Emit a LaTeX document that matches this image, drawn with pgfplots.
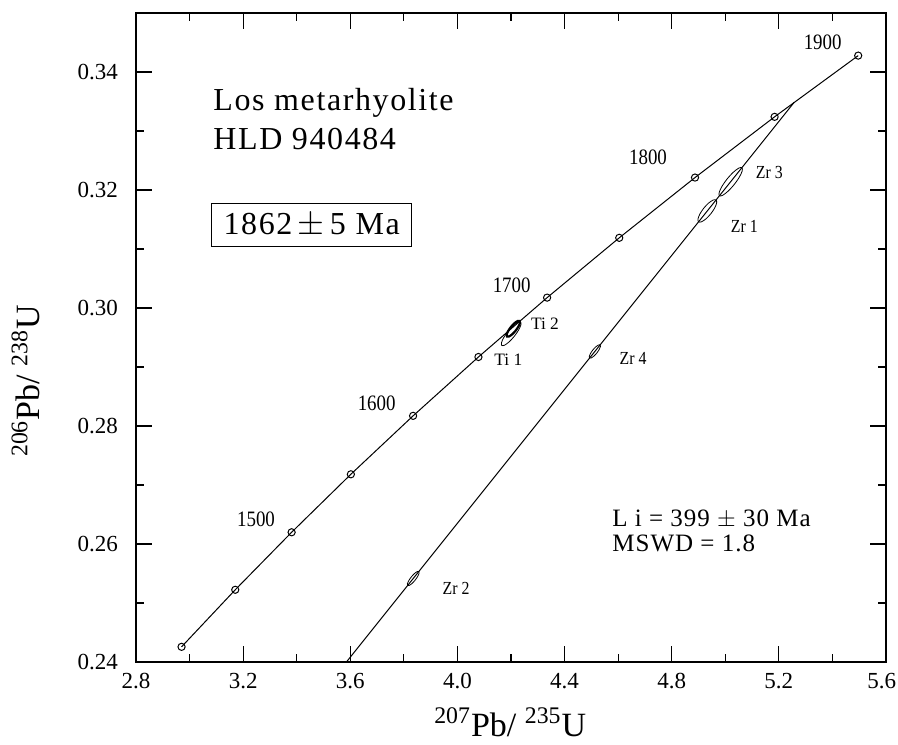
\documentclass[border=0pt]{standalone}
\usepackage{fontspec}
\setmainfont{Liberation Serif}
\newfontfamily\condfont[FakeStretch=0.86]{Liberation Serif}
\usepackage{pgfplots}
\pgfplotsset{compat=1.18}
\begin{document}
\begin{tikzpicture}
\useasboundingbox (-68pt,-41pt) rectangle (381pt,331pt);
\begin{axis}[
  at={(0,0)}, anchor=south west,
  scale only axis, width=375pt, height=324.5pt,
  xmin=2.8, xmax=5.6, ymin=0.24, ymax=0.35,
  xtick={2.8,3.2,3.6,4.0,4.4,4.8,5.2,5.6},
  xticklabels={2.8,3.2,3.6,4.0,4.4,4.8,5.2,\makebox[10pt][r]{5.6}},
  ytick={0.24,0.26,0.28,0.30,0.32,0.34},
  minor x tick num=1, minor y tick num=1,
  tick pos=both, tick align=inside,
  major tick length=8pt, minor tick length=4pt,
  tick style={black, line width=0.6pt},
  axis line style={line width=0.7pt},
  /pgf/number format/assume math mode=true,
  x tick label style={font=\fontsize{11.5}{13}\selectfont},
  y tick label style={font=\fontsize{11.5}{13}\selectfont, /pgf/number format/.cd, fixed, fixed zerofill, precision=2},
  xticklabel shift=2pt, yticklabel shift=5.5pt,
  xlabel={\textsuperscript{207}Pb/ \textsuperscript{235}U},
  ylabel={\textsuperscript{206}Pb/ \textsuperscript{238}U},
  xlabel style={font=\fontsize{17}{20}\selectfont, at={(axis description cs:0.499,-0.0925)}, anchor=center},
  ylabel style={font=\fontsize{17}{20}\selectfont, at={(axis description cs:-0.1467,0.433)}, anchor=center},
  clip=true,
]
% concordia
\addplot[black, line width=0.5pt, mark=o, mark size=1.8pt, mark options={solid, fill=white}] coordinates {
(2.97010,0.24257) (3.17049,0.252237) (3.38099,0.261987) (3.60212,0.271814)
(3.83442,0.281717) (4.07843,0.291695) (4.33477,0.301753) (4.60404,0.311890)
(4.88690,0.322105) (5.18405,0.332398) (5.49618,0.342774)};
% discordia
\addplot[black, line width=0.5pt] coordinates {(0.481352,0.063851) (5.25756,0.334878)};
% Zr 2
\addplot[black, line width=0.4pt, smooth cycle] coordinates {
(3.856006,0.255340) (3.849549,0.255313) (3.839195,0.254975) (3.827716,0.254415)
(3.818189,0.253784) (3.813167,0.253252) (3.813994,0.252960) (3.820451,0.252987)
(3.830805,0.253325) (3.842284,0.253885) (3.851811,0.254516) (3.856833,0.255048)};
% Zr 4
\addplot[black, line width=0.4pt, smooth cycle] coordinates {
(4.532841,0.293754) (4.526540,0.293736) (4.516613,0.293422) (4.505716,0.292895)
(4.496772,0.292297) (4.492176,0.291789) (4.493159,0.291506) (4.499460,0.291524)
(4.509387,0.291838) (4.520284,0.292365) (4.529228,0.292963) (4.533824,0.293471)};
% Zr 1
\addplot[black, line width=0.4pt, smooth cycle] coordinates {
(4.965579,0.318302) (4.954644,0.318292) (4.937886,0.317789) (4.919789,0.316927)
(4.905206,0.315937) (4.898044,0.315085) (4.900221,0.314598) (4.911156,0.314608)
(4.927915,0.315111) (4.946011,0.315973) (4.960594,0.316963) (4.967756,0.317815)};
% Zr 3
\addplot[black, line width=0.4pt, smooth cycle] coordinates {
(5.062116,0.323781) (5.049930,0.323700) (5.029754,0.323004) (5.006989,0.321877)
(4.987738,0.320623) (4.977158,0.319576) (4.978084,0.319019) (4.990270,0.319100)
(5.010446,0.319797) (5.033211,0.320923) (5.052462,0.322178) (5.063042,0.323224)};
% Ti 1
\addplot[black, line width=0.4pt, smooth cycle] coordinates {
(4.235713,0.297614) (4.225194,0.297560) (4.208115,0.296989) (4.189046,0.296054)
(4.173101,0.295005) (4.164552,0.294124) (4.165687,0.293646) (4.176206,0.293700)
(4.193286,0.294271) (4.212354,0.295206) (4.228299,0.296255) (4.236848,0.297136)};
% Ti 2
\addplot[black, line width=1.1pt, smooth cycle] coordinates {
(4.231942,0.297803) (4.224444,0.297785) (4.212702,0.297417) (4.199859,0.296798)
(4.189359,0.296094) (4.184016,0.295494) (4.185258,0.295157) (4.192756,0.295176)
(4.204499,0.295543) (4.217341,0.296162) (4.227841,0.296866) (4.233184,0.297466)};
% age labels
\node[font=\condfont\fontsize{11}{13}\selectfont] at (axis cs:5.3636,0.34497) {1900};
\node[font=\condfont\fontsize{11}{13}\selectfont] at (axis cs:4.7115,0.32559) {1800};
\node[font=\condfont\fontsize{11}{13}\selectfont] at (axis cs:4.2026,0.3039) {1700};
\node[font=\condfont\fontsize{11}{13}\selectfont] at (axis cs:3.6986,0.28385) {1600};
\node[font=\condfont\fontsize{11}{13}\selectfont] at (axis cs:3.248,0.26424) {1500};
% spot labels
\node[font=\fontsize{8.7}{10}\selectfont] at (axis cs:4.3269,0.29741) {Ti 2};
\node[font=\fontsize{8.7}{10}\selectfont] at (axis cs:4.19,0.29119) {Ti 1};
\node[font=\condfont\fontsize{9.2}{10}\selectfont] at (axis cs:4.6555,0.29153) {Zr 4};
\node[font=\condfont\fontsize{9.2}{10}\selectfont] at (axis cs:5.1644,0.32293) {Zr 3};
\node[font=\condfont\fontsize{9.2}{10}\selectfont] at (axis cs:5.0711,0.3139) {Zr 1};
\node[font=\condfont\fontsize{9.2}{10}\selectfont] at (axis cs:3.9947,0.25249) {Zr 2};
% text blocks
\node[anchor=west, inner sep=0pt, font=\fontsize{16}{19}\selectfont\addfontfeature{LetterSpace=5}] at (axis cs:3.0875,0.33470) {Los metarhyolite};
\node[anchor=west, inner sep=0pt, font=\fontsize{16}{19}\selectfont\addfontfeature{LetterSpace=5}] at (axis cs:3.0875,0.32859) {HLD 940484};
\node[draw, line width=0.5pt, minimum width=100pt, minimum height=21.7pt, inner sep=0pt, font=\fontsize{16}{19}\selectfont\addfontfeature{LetterSpace=5}] at (axis cs:3.456,0.31407) {1862\,$\pm$\,5 Ma};
\node[anchor=west, inner sep=0pt, font=\fontsize{12.5}{15}\selectfont\addfontfeature{LetterSpace=4}] at (axis cs:4.577,0.26424) {L i = 399 $\pm$ 30 Ma};
\node[anchor=west, inner sep=0pt, font=\fontsize{12.5}{15}\selectfont\addfontfeature{LetterSpace=4}] at (axis cs:4.577,0.26017) {MSWD = 1.8};
\end{axis}
\end{tikzpicture}
\end{document}
